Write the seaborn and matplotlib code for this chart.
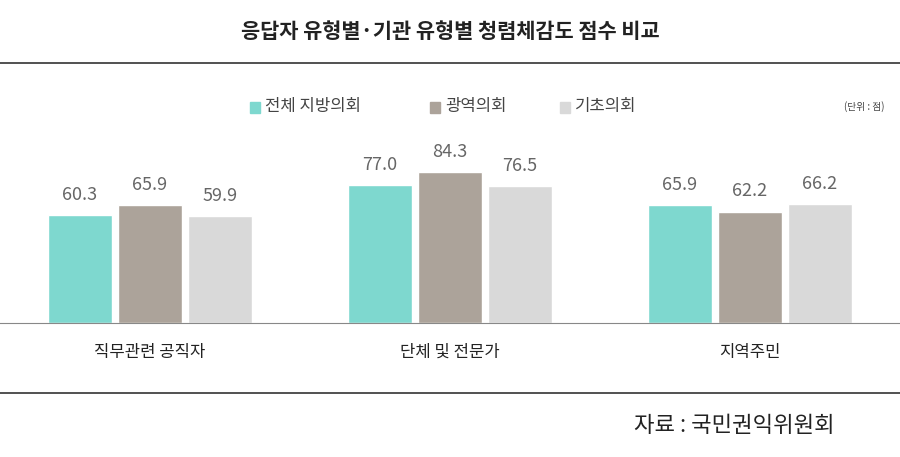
import pandas as pd
import seaborn as sns
import matplotlib.pyplot as plt

# chart data
categories = ["직무관련 공직자", "단체 및 전문가", "지역주민"]
series = ["전체 지방의회", "광역의회", "기초의회"]
total = [60.3, 77.0, 65.9]
metro = [65.9, 84.3, 62.2]
basic = [59.9, 76.5, 66.2]
colors = ["#7ed8cf", "#aca39a", "#d9d9d9"]

rows = []
for s, vals in zip(series, [total, metro, basic]):
    for c, v in zip(categories, vals):
        rows.append({"category": c, "series": s, "score": v})
df = pd.DataFrame(rows)

sns.set_style("white")
plt.rcParams['font.family'] = ['Noto Sans CJK KR', 'DejaVu Sans']

fig = plt.figure(figsize=(9, 4.57), dpi=100)
ax = fig.add_axes([0, 1 - 323 / 457, 1, 223 / 457])

sns.barplot(data=df, x="category", y="score", hue="series", palette=colors,
            width=0.7, gap=0.086, ax=ax, legend=False, saturation=1)

for cont in ax.containers:
    ax.bar_label(cont, fmt="%.1f", padding=8, fontsize=13, color="#666666")

ax.set_xlim(-0.5, 2.5)
ax.set_ylim(0, 124.5)
ax.set_xlabel("")
ax.set_ylabel("")
ax.set_yticks([])
ax.set_xticks([])
for sp in ["top", "left", "right"]:
    ax.spines[sp].set_visible(False)
ax.spines["bottom"].set_color("#888888")

for i, c in enumerate(categories):
    fig.text((i + 0.5) / 3, 1 - 352 / 457, c, ha="center", va="center", fontsize=12, color="#222222")

# legend
lx = [250, 430, 560]
for x, s, col in zip(lx, series, colors):
    fig.patches.append(plt.Rectangle((x / 900, 1 - 113 / 457), 10 / 900, 11 / 457,
                                     transform=fig.transFigure, color=col))
    fig.text((x + 15) / 900, 1 - 107 / 457, s, ha="left", va="center", fontsize=12, color="#444444")
fig.text(885 / 900, 1 - 107 / 457, "(단위 : 점)", ha="right", va="center", fontsize=7, color="#444444")

fig.text(0.5, 1 - 32 / 457, "응답자 유형별·기관 유형별 청렴체감도 점수 비교", ha="center", va="center",
         fontsize=15, fontweight="bold", color="#222222")
fig.add_artist(plt.Line2D([0, 1], [1 - 63 / 457] * 2, color="#333333", lw=1.2))
fig.add_artist(plt.Line2D([0, 1], [1 - 393 / 457] * 2, color="#333333", lw=1.2))
fig.text(835 / 900, 1 - 425 / 457, "자료 : 국민권익위원회", ha="right", va="center", fontsize=16, color="#222222")

fig.savefig("out.png", dpi=100)
